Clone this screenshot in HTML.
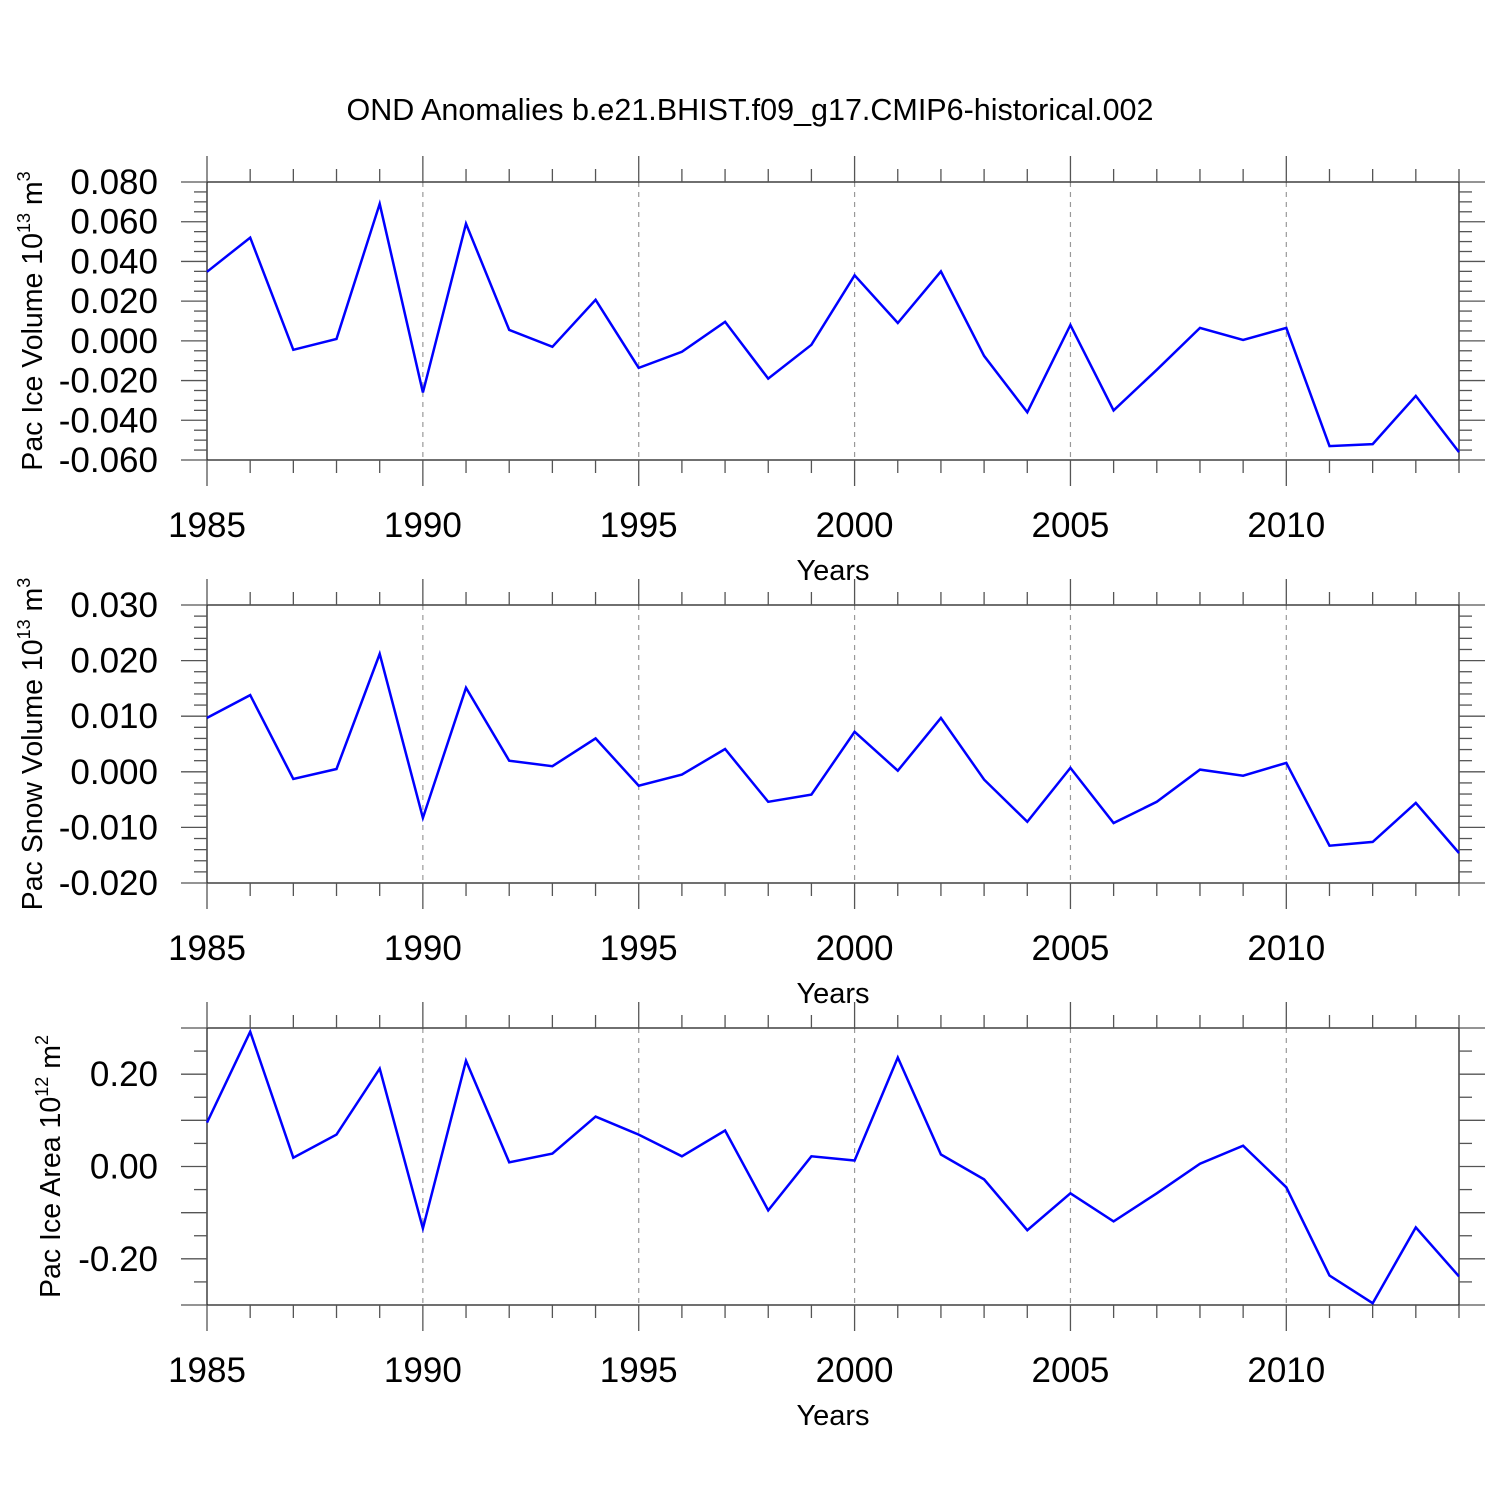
<!DOCTYPE html>
<html><head><meta charset="utf-8"><style>
html,body{margin:0;padding:0;background:#fff;}
svg{display:block;font-family:"Liberation Sans",Arial,sans-serif;}
</style></head><body>
<svg id="chart" width="1500" height="1500" viewBox="0 0 1500 1500" xmlns="http://www.w3.org/2000/svg">
<rect width="1500" height="1500" fill="#fff"/>
<text x="750" y="120" font-size="30.5" text-anchor="middle">OND Anomalies b.e21.BHIST.f09_g17.CMIP6-historical.002</text>
</svg>
<script>
const years = [1985,1986,1987,1988,1989,1990,1991,1992,1993,1994,1995,1996,1997,1998,1999,2000,2001,2002,2003,2004,2005,2006,2007,2008,2009,2010,2011,2012,2013,2014];
const iceVolume = [0.0348,0.052,-0.0045,0.001,0.069,-0.026,0.059,0.0055,-0.003,0.0207,-0.0136,-0.0055,0.0096,-0.019,-0.002,0.033,0.009,0.035,-0.0076,-0.036,0.008,-0.035,-0.0146,0.0065,0.0005,0.0065,-0.053,-0.052,-0.0277,-0.056];
const snowVolume = [0.0097,0.0138,-0.0013,0.0005,0.0212,-0.0083,0.0151,0.002,0.001,0.006,-0.0025,-0.0005,0.0041,-0.0054,-0.0041,0.0072,0.0002,0.0097,-0.0014,-0.009,0.0007,-0.0092,-0.0054,0.0004,-0.0007,0.0016,-0.0133,-0.0126,-0.0056,-0.0146];
const iceArea = [0.095,0.292,0.019,0.069,0.212,-0.134,0.229,0.009,0.028,0.108,0.069,0.022,0.078,-0.095,0.022,0.013,0.236,0.026,-0.028,-0.138,-0.058,-0.119,-0.058,0.006,0.045,-0.045,-0.236,-0.296,-0.132,-0.238];
const xTickLabels = ["1985","1990","1995","2000","2005","2010"];
const volTicks = ["0.080","0.060","0.040","0.020","0.000","-0.020","-0.040","-0.060"];
const snowTicks = ["0.030","0.020","0.010","0.000","-0.010","-0.020"];
const areaTicks = ["0.20","0.00","-0.20"];

const NS="http://www.w3.org/2000/svg";
const svg=document.getElementById('chart');
function mk(tag,attrs,parent){const e=document.createElementNS(NS,tag);for(const k in attrs)e.setAttribute(k,attrs[k]);(parent||svg).appendChild(e);return e;}
const X0=207,X1=1459;
function xs(yr){return X0+(yr-1985)*(X1-X0)/29;}

const panels=[
 {name:'ice-volume',top:182,bot:460,ymin:-0.06,ymax:0.08,minor:0.005,major:0.02,labels:volTicks,data:iceVolume,title:'Pac Ice Volume 10',sup:'13',unit:' m',usup:'3',tx:42},
 {name:'snow-volume',top:605,bot:883,ymin:-0.02,ymax:0.03,minor:0.002,major:0.01,labels:snowTicks,data:snowVolume,title:'Pac Snow Volume 10',sup:'13',unit:' m',usup:'3',tx:42},
 {name:'ice-area',top:1028,bot:1305,ymin:-0.30,ymax:0.30,minor:0.05,major:0.1,labels:areaTicks,data:iceArea,title:'Pac Ice Area 10',sup:'12',unit:' m',usup:'2',tx:60}
];
panels.forEach(p=>{
 const g=mk('g',{});
 
 
 const ys=v=>p.bot-(v-p.ymin)*(p.bot-p.top)/(p.ymax-p.ymin);
 for(let yr=1990;yr<=2010;yr+=5){
  const l=mk('line',{x1:xs(yr),x2:xs(yr),y1:p.top,y2:p.bot,stroke:'#999','stroke-width':1.2,'stroke-dasharray':'5,5'},g);
  
  
 }
 const fr=mk('rect',{x:X0,y:p.top,width:X1-X0,height:p.bot-p.top,fill:'none',stroke:'#222','stroke-width':1.3},g);
 
 
 years.forEach(yr=>{
  const maj=(yr%5===0);const len=maj?26:13;const x=xs(yr);
  mk('line',{x1:x,x2:x,y1:p.top,y2:p.top-len,stroke:'#555','stroke-width':1.3},g);
  mk('line',{x1:x,x2:x,y1:p.bot,y2:p.bot+len,stroke:'#555','stroke-width':1.3},g);
 });
 xTickLabels.forEach(t=>{
  const e=mk('text',{x:xs(+t),y:p.bot+77,'font-size':35,'text-anchor':'middle'},g);
  
  
  e.textContent=t;
 });
 const xt=mk('text',{x:833,y:p.bot+120,'font-size':29,'text-anchor':'middle'},g);
 
 
 xt.textContent='Years';
 const n=Math.round((p.ymax-p.ymin)/p.minor);
 const per=Math.round(p.major/p.minor);
 for(let i=0;i<=n;i++){
  const v=p.ymin+i*p.minor;const y=ys(v);const maj=(i%per===0);const len=maj?26:13;
  mk('line',{x1:X0,x2:X0-len,y1:y,y2:y,stroke:'#555','stroke-width':1.3},g);
  mk('line',{x1:X1,x2:X1+len,y1:y,y2:y,stroke:'#555','stroke-width':1.3},g);
 }
 p.labels.forEach(t=>{
  const e=mk('text',{x:158,y:ys(parseFloat(t))+12,'font-size':35,'text-anchor':'end'},g);
  
  
  e.textContent=t;
 });
 const cy=(p.top+p.bot)/2;
 const yt=mk('text',{x:p.tx,y:cy,'font-size':28.5,'text-anchor':'middle',transform:`rotate(-90 ${p.tx} ${cy})`},g);
 
 
 yt.innerHTML=`${p.title}<tspan font-size="18" dy="-12">${p.sup}</tspan><tspan dy="12">${p.unit}</tspan><tspan font-size="18" dy="-12">${p.usup}</tspan>`;
 const pts=years.map((yr,i)=>xs(yr).toFixed(1)+','+ys(p.data[i]).toFixed(1)).join(' ');
 const pl=mk('polyline',{points:pts,fill:'none',stroke:'#0000ff','stroke-width':2.5,'stroke-linejoin':'miter'},g);
 
 
});
</script>
</body></html>
